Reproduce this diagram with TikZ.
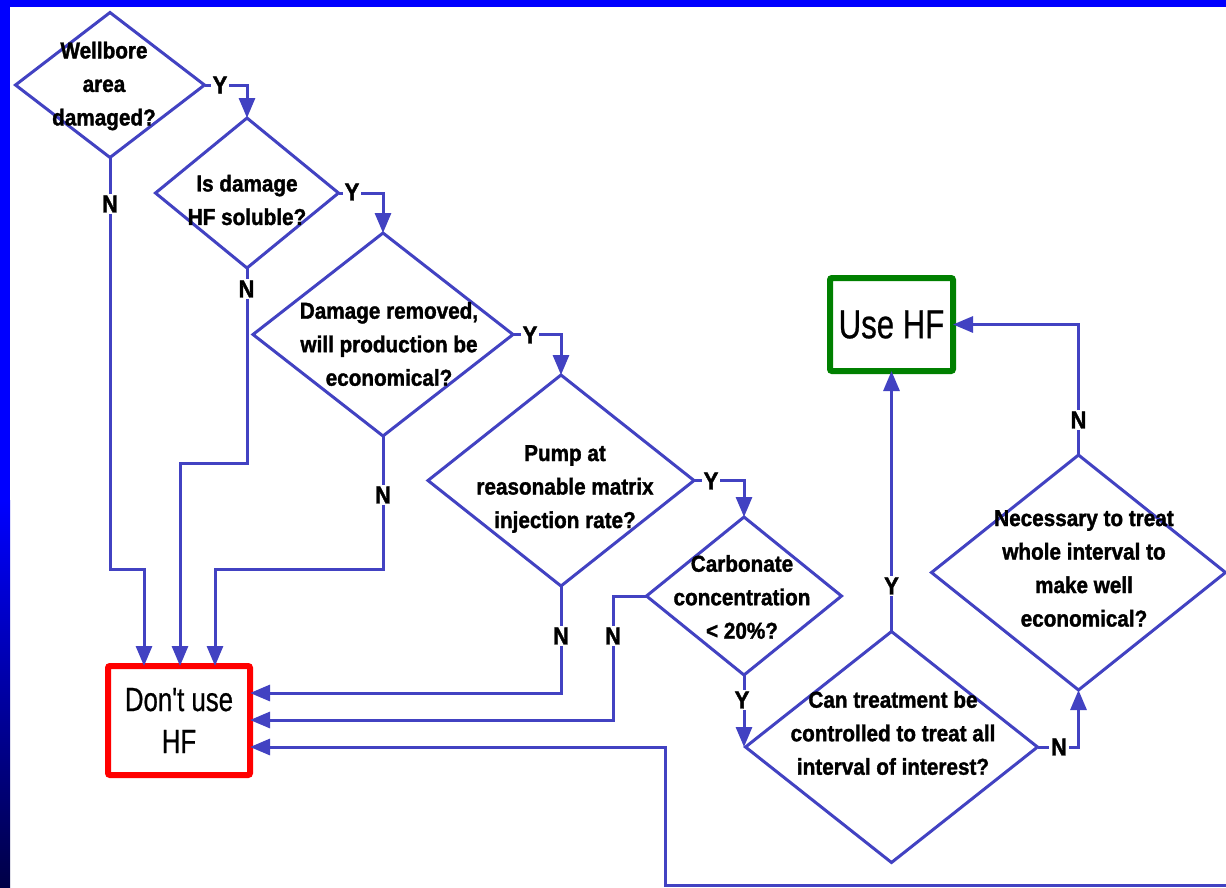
\documentclass[tikz,border=0pt]{standalone}
\usepackage{fontspec}
\setmainfont{Liberation Sans}
\newfontfamily\qfont[FakeStretch=0.9, BoldFeatures={FakeBold=1.5}]{Liberation Sans}
\newfontfamily\rfont[FakeStretch=0.77, FakeBold=0.6]{Liberation Sans}
\usetikzlibrary{shapes.geometric,arrows.meta}
\definecolor{lc}{RGB}{66,66,194}
\definecolor{hfgreen}{RGB}{0,128,0}
\definecolor{bandblue}{RGB}{0,0,255}
\definecolor{banddark}{RGB}{0,0,70}
\begin{document}
\begin{tikzpicture}[x=1pt,y=-1pt,
  dia/.style={diamond, draw=lc, line width=3pt, inner sep=0pt, outer sep=0pt},
  qtext/.style={align=center, font=\qfont\bfseries\fontsize{23}{33.5}\selectfont, inner sep=0pt},
  lab/.style={fill=white, inner sep=2pt, font=\qfont\bfseries\fontsize{24.5}{28}\selectfont},
  conn/.style={draw=lc, line width=3pt, -{Triangle[length=20pt,width=16pt]}},
  endbox/.style={draw, line width=6pt, rounded corners=2pt, inner sep=0pt, outer sep=0pt, align=center, font=\rfont\fontsize{33.5}{42}\selectfont}
]
\useasboundingbox (0,0) rectangle (1226,887);
\fill[white] (0,0) rectangle (1226,887);
% frame bands
\fill[bandblue] (0,0) rectangle (1226,7);
\fill[bandblue] (0,0) rectangle (10,500);
\begin{scope}[y=1pt]
\shade[top color=bandblue, bottom color=banddark] (0,-500) rectangle (10,-887);
\end{scope}

% decision diamonds
\node[dia, minimum width=189pt, minimum height=145pt] (d1) at (110,85) {};
\node[dia, minimum width=183pt, minimum height=150pt] (d2) at (247,193) {};
\node[dia, minimum width=260pt, minimum height=203pt] (d3) at (383,334.5) {};
\node[dia, minimum width=266pt, minimum height=211pt] (d4) at (561,480.5) {};
\node[dia, minimum width=195pt, minimum height=158pt] (d5) at (744,596) {};
\node[dia, minimum width=292pt, minimum height=231pt] (d6) at (891.5,747) {};
\node[dia, minimum width=294pt, minimum height=235pt] (d7) at (1078.5,572.5) {};

% texts
\node[qtext] (t1) at (104,86) {Wellbore\\area\\damaged?};
\node[qtext] (t2) at (247,200) {Is damage\\HF soluble?};
\node[qtext] (t3) at (389,344) {Damage removed,\\will production be\\economical?};
\node[qtext] (t4) at (565,489) {Pump at\\reasonable matrix\\injection rate?};
\node[qtext] (t5) at (742,597) {Carbonate\\concentration\\< 20\%?};
\node[qtext] (t6) at (893,733) {Can treatment be\\controlled to treat all\\interval of interest?};
\node[qtext] (t7) at (1084,568.5) {Necessary to treat\\whole interval to\\make well\\economical?};

% end boxes
\node[endbox, draw=red, minimum width=142pt, minimum height=109pt] (dont) at (179,720.5) {Don't use\\HF};
\node[endbox, draw=hfgreen, minimum width=123pt, minimum height=93pt, font=\rfont\fontsize{40.5}{48}\selectfont] (use) at (891.5,324.5) {Use HF};

% yes chain
\draw[conn] (d1.east) -| (d2.north);
\draw[conn] (d2.east) -| (d3.north);
\draw[conn] (d3.east) -| (d4.north);
\draw[conn] (d4.east) -| (d5.north);
\draw[conn] (d5.south) -- (d5.south |- d6.west);
\draw[conn] (d6.north) -- (use.south);
\draw[conn] (d6.east) -| (d7.south);
\draw[conn] (d7.north) |- (use.east);

% no branches
\coordinate (j1) at (144,569);
\coordinate (j2) at (180,463);
\coordinate (j3) at (215,569);
\coordinate (j4) at (0,693);
\coordinate (j5) at (613,720);
\coordinate (j6) at (665,747);
\coordinate (edge) at (1228,885);
\draw[conn] (d1.south) |- (j1) -- (j1 |- dont.north);
\draw[conn] (d2.south) |- (j2) -- (j2 |- dont.north);
\draw[conn] (d3.south) |- (j3) -- (j3 |- dont.north);
\draw[conn] (d4.south) |- (dont.east |- j4);
\draw[conn] (d5.west) -| (j5) -- (j5 -| dont.east);
\draw[conn] (edge) -| (j6) -- (j6 -| dont.east);

% labels
\node[lab] (y1) at (220,85) {Y};
\node[lab] (y2) at (352,192) {Y};
\node[lab] (y3) at (530,335) {Y};
\node[lab] (y4) at (711,481) {Y};
\node[lab] (y5) at (742,700) {Y};
\node[lab] (y6) at (891.5,586) {Y};
\node[lab] (n6) at (1059,747) {N};
\node[lab] (n7) at (1078.5,420) {N};
\node[lab] (n1) at (110,204) {N};
\node[lab] (n2) at (246.5,289) {N};
\node[lab] (n3) at (383,495) {N};
\node[lab] (n4) at (561,636) {N};
\node[lab] (n5) at (613,636) {N};
\end{tikzpicture}
\end{document}
